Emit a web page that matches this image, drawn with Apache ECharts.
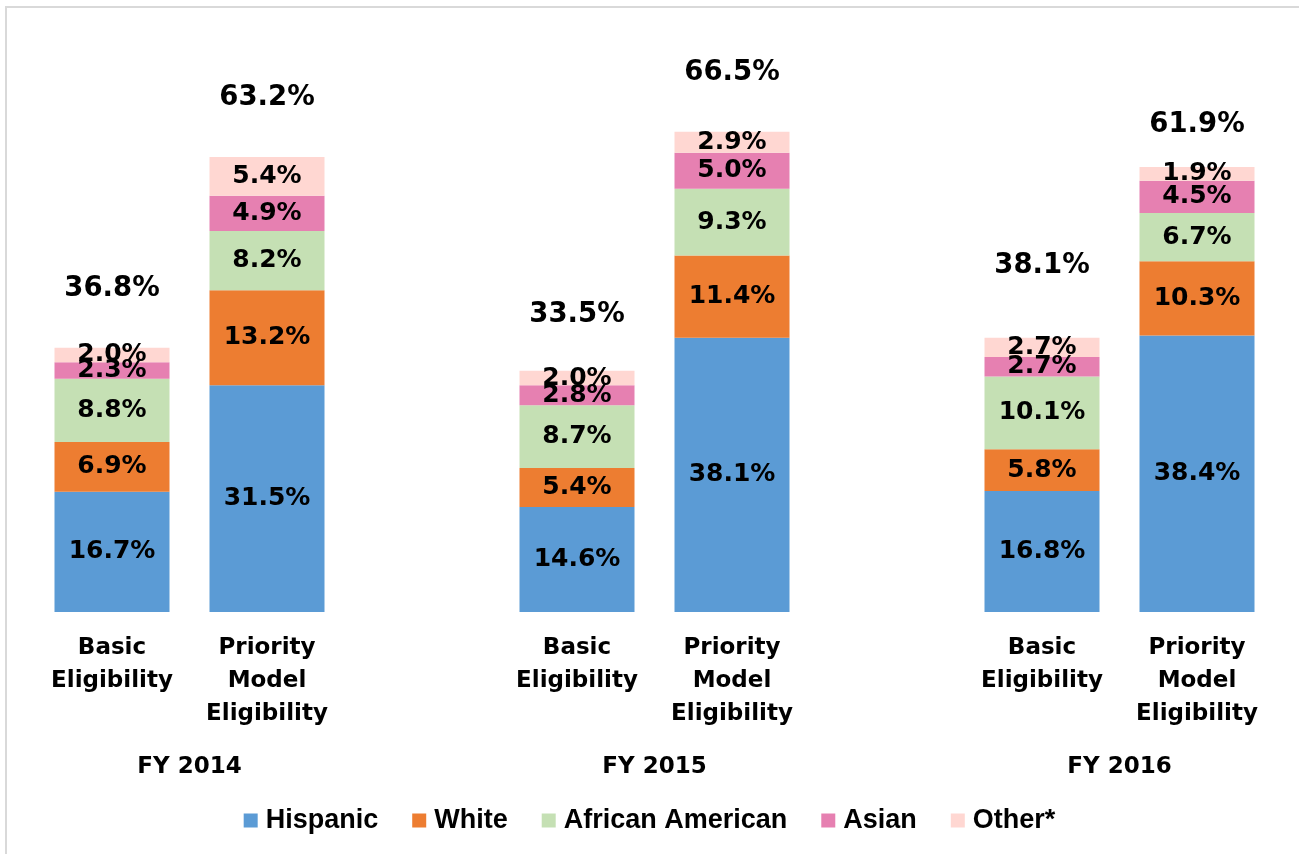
<!DOCTYPE html>
<html>
<head>
<meta charset="utf-8">
<script src="https://cdn.jsdelivr.net/npm/echarts@6/dist/echarts.min.js"></script>
<style>
  body { margin: 0; background: #fff; }
  #chart { position: absolute; left: 0; top: 0; width: 1299px; height: 854px; }
  #frame { position: absolute; left: 5px; top: 6px; width: 1300px; height: 860px;
           border-top: 2px solid #d9d9d9; border-left: 2px solid #d9d9d9; pointer-events: none; }
</style>
</head>
<body>
<div id="chart"></div>
<div id="frame"></div>
<script>
// bars: Basic / Priority per fiscal year, blank slot between years
const categories = ['Basic\nEligibility', 'Priority\nModel\nEligibility', '',
  'Basic\nEligibility', 'Priority\nModel\nEligibility', '',
  'Basic\nEligibility', 'Priority\nModel\nEligibility'];
const yearLabels = { 1: 'FY 2014', 4: 'FY 2015', 7: 'FY 2016' };

const hispanic = [16.7, 31.5, '-', 14.6, 38.1, '-', 16.8, 38.4];
const white    = [6.9, 13.2, '-', 5.4, 11.4, '-', 5.8, 10.3];
const african  = [8.8, 8.2, '-', 8.7, 9.3, '-', 10.1, 6.7];
const asian    = [2.3, 4.9, '-', 2.8, 5.0, '-', 2.7, 4.5];
const other    = [2.0, 5.4, '-', 2.0, 2.9, '-', 2.7, 1.9];
const totals   = [36.8, 63.2, '-', 33.5, 66.5, '-', 38.1, 61.9];

// how far each total label sits above its bar (as in the original)
const totalLift = [44, 45, 0, 42, 46, 0, 58, 27];

const names = ['Hispanic', 'White', 'African American', 'Asian', 'Other*'];
const colors = ['#5B9BD5', '#ED7D31', '#C5E0B4', '#E680B1', '#FFD7D2'];
const values = [hispanic, white, african, asian, other];

const font = 'DejaVu Sans';
const pct = p => p.value.toFixed(1) + '%';

const series = names.map((n, i) => ({
  name: n,
  type: 'bar',
  stack: 'all',
  barWidth: 115,
  data: values[i],
  itemStyle: { color: colors[i] },
  label: { show: true, position: 'inside', color: '#000', fontFamily: font,
           fontWeight: 'bold', fontSize: 25, formatter: pct }
}));

series.push({
  name: 'Total',
  type: 'bar',
  barWidth: 115,
  barGap: '-100%',
  silent: true,
  itemStyle: { color: 'rgba(0,0,0,0)' },
  data: totals.map((v, i) => v === '-' ? v : {
    value: v,
    label: { distance: totalLift[i] }
  }),
  label: { show: true, position: 'top', color: '#000', fontFamily: font,
           fontWeight: 'bold', fontSize: 27.5, formatter: pct },
  z: 5
});

const chart = echarts.init(document.getElementById('chart'), null, { renderer: 'canvas' });
chart.setOption({
  animation: false,
  grid: { left: 34.5, right: 24.5, top: 36, bottom: 242 },
  legend: {
    data: names,
    bottom: 15,
    left: 'center',
    itemWidth: 14,
    itemHeight: 14,
    itemGap: 34,
    icon: 'rect',
    textStyle: { fontFamily: 'Liberation Sans', fontWeight: 'bold', fontSize: 27, color: '#000',
                 padding: [0, 0, 0, 3] }
  },
  xAxis: [{
    type: 'category',
    data: categories,
    axisLine: { show: false },
    axisTick: { show: false },
    axisLabel: { interval: 0, margin: 20, lineHeight: 33, fontFamily: font,
                 fontWeight: 'bold', fontSize: 23, color: '#000' }
  }, {
    type: 'value',
    position: 'bottom',
    min: 0, max: 8, interval: 1,
    axisLine: { show: false },
    axisTick: { show: false },
    splitLine: { show: false },
    axisLabel: { margin: 139, lineHeight: 33, fontFamily: font, fontWeight: 'bold',
                 fontSize: 23, color: '#000', showMinLabel: false, showMaxLabel: false,
                 formatter: v => yearLabels[v] || '' }
  }],
  yAxis: { type: 'value', min: 0, max: 80, show: false, splitLine: { show: false } },
  series: series
});
</script>
</body>
</html>
